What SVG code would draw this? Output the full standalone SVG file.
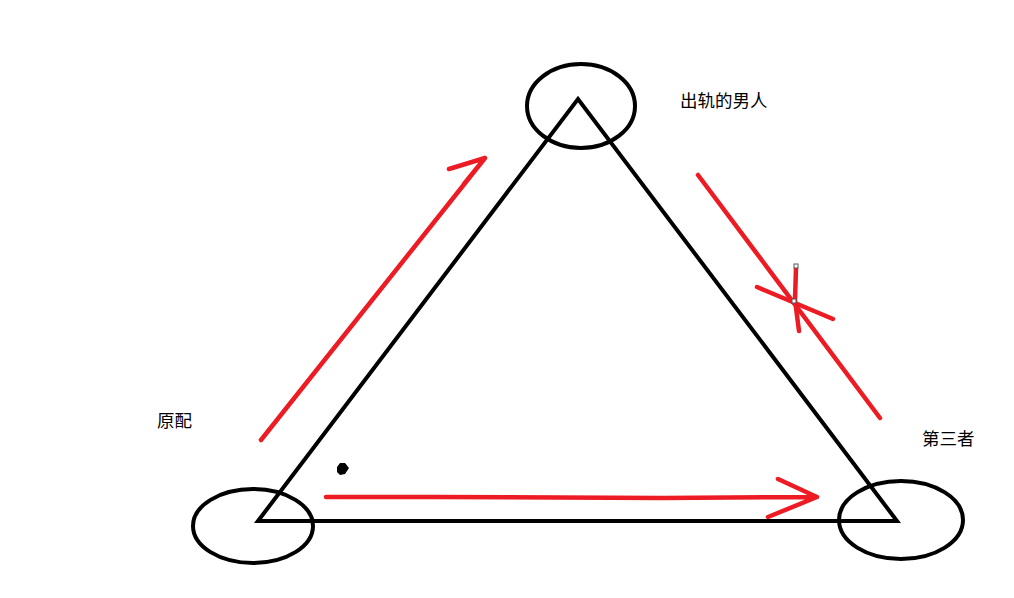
<svg xmlns="http://www.w3.org/2000/svg" width="1014" height="598" viewBox="0 0 1014 598">
<style>
.blk{fill:none;stroke:#000;stroke-width:4;stroke-linejoin:miter}
.red{fill:none;stroke:#ed1c24;stroke-width:4.5;stroke-linecap:round;stroke-linejoin:round}
.lbl{font-family:"Noto Sans CJK SC","Noto Sans CJK JP",sans-serif;font-size:17.5px;fill:#000}
.hnd{fill:#fff;stroke:#555;stroke-width:1}
</style>
<rect width="1014" height="598" fill="#fff"/>
<g id="triangle">
<polygon class="blk" points="258,521 578,99 897,521"/>
</g>
<g id="node-man">
<ellipse class="blk" cx="581" cy="106" rx="54" ry="42"/>
<text class="lbl" x="680" y="107">出轨的男人</text>
</g>
<g id="node-wife">
<ellipse class="blk" cx="253" cy="526" rx="60" ry="37"/>
<text class="lbl" x="157" y="427">原配</text>
</g>
<g id="node-third">
<ellipse class="blk" cx="901" cy="520" rx="62" ry="39"/>
<text class="lbl" x="922" y="445">第三者</text>
</g>
<g id="connectors">
<path class="red" d="M261,440 L485,158 M449,169 L485,158 L464,184"/>
<path class="red" d="M326,497 L437,497 L662,498 L817,497 M778,479 L817,497 L768,517"/>
<path class="red" d="M698,175 L880,418"/>
<path class="red" d="M757,287 L833,319 M796,268 L795,300 L799,331"/>
<rect class="hnd" x="794" y="264" width="4" height="4"/>
<rect class="hnd" x="792" y="299" width="4" height="4"/>
</g>
<g id="dot">
<polygon points="337,467 340,463 345,463 349,468 345,474 340,475 337,472" fill="#000"/>
</g>
</svg>
